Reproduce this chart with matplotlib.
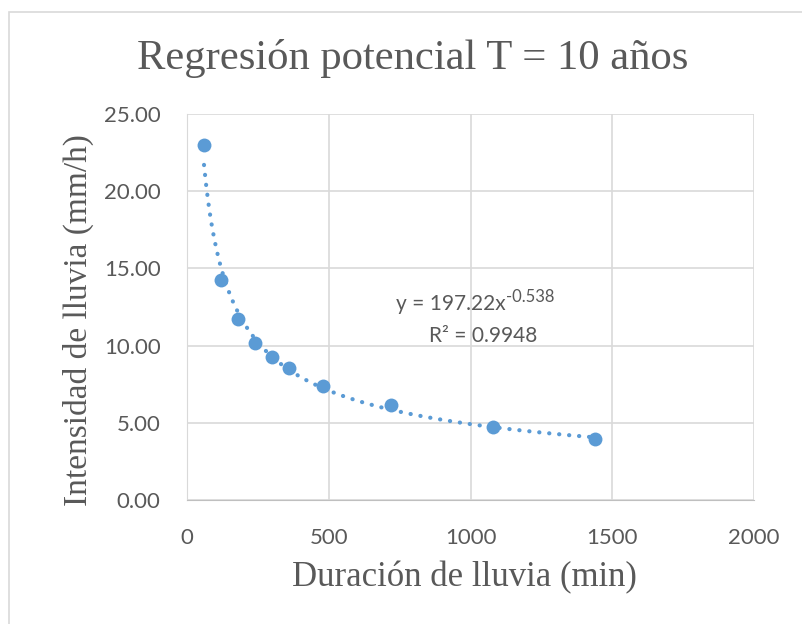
import numpy as np
import matplotlib
matplotlib.use("Agg")
import matplotlib.pyplot as plt
from matplotlib.patches import Rectangle

# data
duracion = [60, 120, 180, 240, 300, 360, 480, 720, 1080, 1440]
intensidad = [23.0, 14.25, 11.72, 10.17, 9.26, 8.55, 7.38, 6.15, 4.73, 3.95]
x_ticks = [0, 500, 1000, 1500, 2000]
y_ticks = [0, 5, 10, 15, 20, 25]

AZUL = "#5B9BD5"
GRIS = "#595959"
SANS = ["Lato", "DejaVu Sans"]
SERIF = ["Liberation Serif", "DejaVu Serif"]

fig = plt.figure(figsize=(8.03, 6.24), dpi=100)
ax = fig.add_axes([187 / 803, 124 / 624, 567 / 803, 386 / 624])

# chart frame (cut by the picture on the right and bottom)
fig.add_artist(Rectangle((9.5 / 803, -0.1), 1.2, 0.1 + (624 - 12) / 624,
                         transform=fig.transFigure, fill=False,
                         edgecolor="#D9D9D9", linewidth=1.2))

# power trendline fitted on log-log
b, log_a = np.polyfit(np.log(duracion), np.log(intensidad), 1)
xs = np.linspace(min(duracion), max(duracion), 400)
ax.plot(xs, np.exp(log_a) * xs ** b, color=AZUL, linewidth=3.0,
        linestyle=(0, (0.05, 2.35)), dash_capstyle="round", zorder=2)

ax.plot(duracion, intensidad, "o", color=AZUL, markersize=10,
        markeredgewidth=0, zorder=3)

ax.set_xlim(0, 2000)
ax.set_ylim(0, 25)
ax.set_xticks(x_ticks)
ax.set_yticks(y_ticks)
ax.set_yticklabels([f"{v:.2f}" for v in y_ticks])
ax.grid(True, color="#D9D9D9", linewidth=1.2)
ax.set_axisbelow(True)
for s in ["top", "right"]:
    ax.spines[s].set_visible(False)
ax.spines["left"].set_color("#D9D9D9")
ax.spines["bottom"].set_color("#BFBFBF")
ax.tick_params(length=0, labelsize=16, labelcolor=GRIS)
ax.tick_params(axis="y", pad=19)
ax.tick_params(axis="x", pad=20)
for lab in ax.get_xticklabels() + ax.get_yticklabels():
    lab.set_family(SANS)

fig.text(0.514, 0.906, "Regresión potencial T = 10 años", ha="center",
         va="center", fontsize=30.7, color=GRIS, family=SERIF)
fig.text(0.578, 0.074, "Duración de lluvia (min)", ha="center",
         va="center", fontsize=25, color=GRIS, family=SERIF)
fig.text(0.097, 0.487, "Intensidad de lluvia (mm/h)", ha="center",
         va="center", fontsize=24, color=GRIS, family=SERIF, rotation=90)

# trendline equation, superscript placed after the base text
eq = fig.text(396 / 803, 1 - 304 / 624, "y = 197.22x", ha="left",
              va="center", fontsize=15, color=GRIS, family=SANS)
fig.add_artist(matplotlib.text.Annotation(
    "-0.538", xy=(1.0, 0.85), xycoords=eq, ha="left", va="center",
    fontsize=12, color=GRIS, family=SANS, annotation_clip=False))
fig.text(483 / 803, 1 - 336 / 624, "R² = 0.9948", ha="center",
         va="center", fontsize=15, color=GRIS, family=SANS)

fig.savefig("out.png", dpi=100)
